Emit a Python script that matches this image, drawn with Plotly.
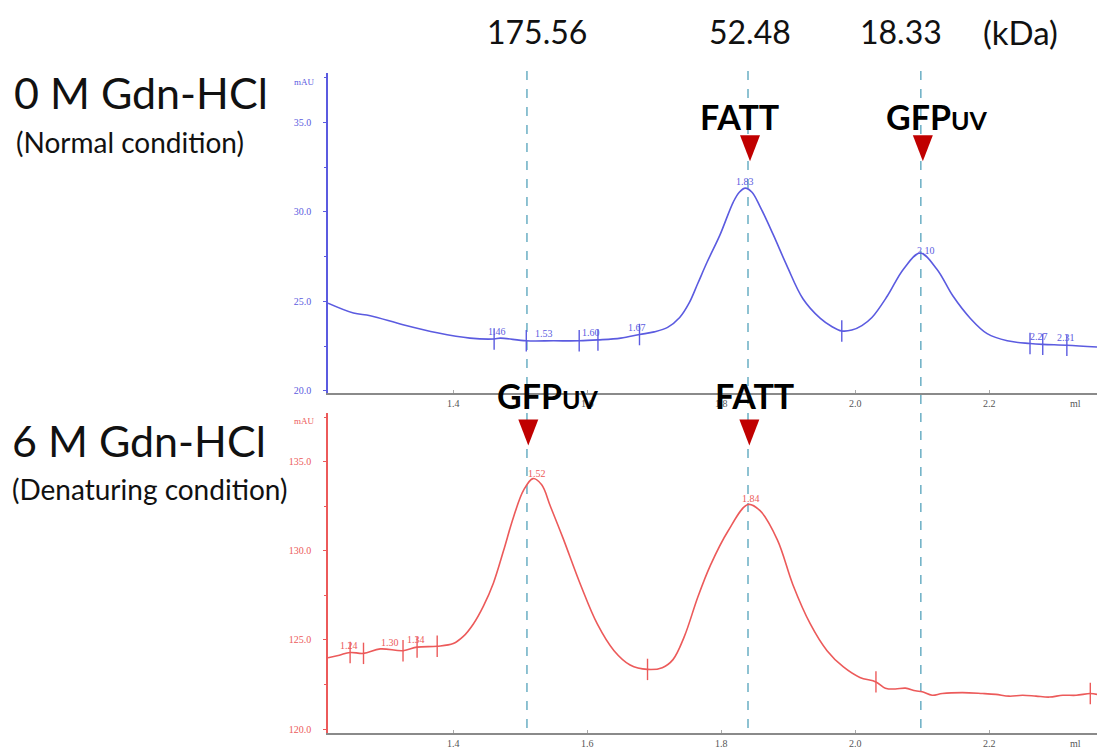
import numpy as np
import plotly.graph_objects as go

W, H = 1097, 753

# ---------------- data ----------------
# 0 M Gdn-HCl chromatogram (ml, mAU)
top_ml = [1.213, 1.251, 1.276, 1.325, 1.376, 1.425, 1.461, 1.47, 1.509, 1.55, 1.588, 1.616,
          1.65, 1.678, 1.70, 1.72, 1.738, 1.752, 1.765, 1.779, 1.798, 1.818, 1.827, 1.836,
          1.846, 1.858, 1.878, 1.898, 1.922, 1.948, 1.965, 1.98, 1.995, 2.01, 2.025, 2.048,
          2.072, 2.097, 2.122, 2.146, 2.172, 2.197, 2.227, 2.261, 2.28, 2.316, 2.361]
top_mau = [24.9, 24.35, 24.2, 23.7, 23.25, 22.95, 22.9, 22.95, 22.8, 22.8, 22.8, 22.85,
           22.95, 23.15, 23.3, 23.55, 24.1, 24.9, 26.0, 27.2, 28.7, 30.55, 31.1, 31.33,
           31.1, 30.3, 28.7, 27.0, 25.15, 24.05, 23.6, 23.35, 23.4, 23.65, 24.1, 25.3,
           26.8, 27.7, 26.8, 25.3, 24.05, 23.2, 22.8, 22.65, 22.6, 22.55, 22.45]

# 6 M Gdn-HCl chromatogram (ml, mAU)
bot_ml = [1.213, 1.23, 1.246, 1.266, 1.291, 1.325, 1.346, 1.376, 1.40, 1.415, 1.43, 1.445,
          1.46, 1.475, 1.49, 1.505, 1.519, 1.532, 1.545, 1.564, 1.59, 1.615, 1.64, 1.664, 1.69,
          1.712, 1.728, 1.745, 1.765, 1.784, 1.81, 1.84, 1.858, 1.884, 1.907, 1.933, 1.958,
          1.982, 2.007, 2.031, 2.045, 2.06, 2.075, 2.09, 2.1, 2.115, 2.13, 2.16, 2.19, 2.21,
          2.23, 2.25, 2.27, 2.29, 2.31, 2.33, 2.351, 2.361]
bot_mau = [124.0, 124.15, 124.3, 124.25, 124.5, 124.4, 124.6, 124.65, 124.8, 125.2, 125.9, 126.9,
           128.2, 130.0, 131.9, 133.4, 134.05, 133.7, 132.5, 130.7, 128.1, 125.9, 124.4, 123.6, 123.35,
           123.45, 123.9, 125.2, 127.4, 129.2, 131.1, 132.6, 132.25, 130.6, 128.1, 125.9, 124.4,
           123.5, 122.9, 122.65, 122.3, 122.25, 122.3, 122.15, 122.1, 121.9, 122.0, 122.05, 122.0, 121.95,
           121.85, 121.9, 121.85, 121.8, 121.9, 121.9, 122.0, 121.95]

# fraction cut marks (ml)
top_cuts = [1.461, 1.509, 1.588, 1.616, 1.678, 1.98, 2.261, 2.28, 2.316]
bot_cuts = [1.246, 1.266, 1.325, 1.346, 1.376, 1.69, 2.031, 2.351]

# retention labels printed on the traces
top_labels = ["1.46", "1.53", "1.60", "1.67", "1.83", "2.10", "2.27", "2.31"]
bot_labels = ["1.24", "1.30", "1.34", "1.52", "1.84"]

# marker positions (ml) and their molecular weights (kDa)
marker_ml = [1.51, 1.84, 2.098]
marker_kda = ["175.56", "52.48", "18.33"]
kda_unit = "(kDa)"

# peak identities
top_peaks = [("FATT", 1.84, -0.013), ("GFP<span style='font-size:25px'>UV</span>", 2.098, 0.024)]
bot_peaks = [("GFP<span style='font-size:25px'>UV</span>", 1.51, 0.031), ("FATT", 1.84, 0.01)]

x_ticks = [1.4, 1.6, 1.8, 2.0, 2.2]
top_yticks = [20, 25, 30, 35]
bot_yticks = [120, 125, 130, 135]

# ---------------- style ----------------
BLUE = "#5b5be0"
RED = "#ec5a5a"
DASH = "#6aaec4"
TRI = "#c00000"
BIG = "Lato, 'Open Sans', sans-serif"
SMALL = "'Liberation Serif', 'DejaVu Serif', serif"


def py(p):
    return 1 - p / H


fig = go.Figure()

fig.add_trace(go.Scatter(x=top_ml, y=top_mau, mode="lines", xaxis="x", yaxis="y",
                         line=dict(color=BLUE, width=1.6, shape="spline", smoothing=1.0),
                         hoverinfo="skip", showlegend=False))
fig.add_trace(go.Scatter(x=bot_ml, y=bot_mau, mode="lines", xaxis="x2", yaxis="y2",
                         line=dict(color=RED, width=1.6, shape="spline", smoothing=1.0),
                         hoverinfo="skip", showlegend=False))


def cut_segments(cuts, xs, ys, d):
    sx, sy = [], []
    for c in cuts:
        v = float(np.interp(c, xs, ys))
        sx += [c, c, None]
        sy += [v - d, v + d, None]
    return sx, sy


sx, sy = cut_segments(top_cuts, top_ml, top_mau, 0.6)
fig.add_trace(go.Scatter(x=sx, y=sy, mode="lines", xaxis="x", yaxis="y",
                         line=dict(color=BLUE, width=1.4), hoverinfo="skip", showlegend=False))
sx, sy = cut_segments(bot_cuts, bot_ml, bot_mau, 0.6)
fig.add_trace(go.Scatter(x=sx, y=sy, mode="lines", xaxis="x2", yaxis="y2",
                         line=dict(color=RED, width=1.4), hoverinfo="skip", showlegend=False))

ann = []
for t in top_labels:
    xv = float(t) + 0.005
    ann.append(dict(x=xv, y=float(np.interp(xv, top_ml, top_mau)), xref="x", yref="y",
                    text=t, showarrow=False, yanchor="bottom", xanchor="center", yshift=0,
                    font=dict(family=SMALL, size=10, color=BLUE)))
for t in bot_labels:
    xv = float(t) + 0.005
    ann.append(dict(x=xv, y=float(np.interp(xv, bot_ml, bot_mau)), xref="x2", yref="y2",
                    text=t, showarrow=False, yanchor="bottom", xanchor="center", yshift=0,
                    font=dict(family=SMALL, size=10, color=RED)))

shapes = []
for m in marker_ml:
    shapes.append(dict(type="line", xref="x", yref="paper", x0=m, x1=m,
                       y0=py(732), y1=py(65), line=dict(color=DASH, width=1.5, dash="dash"),
                       layer="below"))

# molecular weight labels
kda_font = dict(family=BIG, size=32, color="#111")
ann.append(dict(x=marker_ml[0] + 0.015, y=py(32), xref="x", yref="paper", text=marker_kda[0],
                showarrow=False, xanchor="center", yanchor="middle", font=kda_font))
ann.append(dict(x=marker_ml[1] + 0.003, y=py(32), xref="x", yref="paper", text=marker_kda[1],
                showarrow=False, xanchor="center", yanchor="middle", font=kda_font))
ann.append(dict(x=marker_ml[2] - 0.094, y=py(32), xref="x", yref="paper", text=marker_kda[2],
                showarrow=False, xanchor="left", yanchor="middle", font=kda_font))
ann.append(dict(x=1020 / W, y=py(32), xref="paper", yref="paper", text=kda_unit,
                showarrow=False, xanchor="center", yanchor="middle",
                font=dict(family=BIG, size=33, color="#111")))

# condition labels
ann.append(dict(x=12 / W, y=py(93), xref="paper", yref="paper", text="0 M Gdn-HCl",
                showarrow=False, xanchor="left", yanchor="middle",
                font=dict(family=BIG, size=43, color="#111")))
ann.append(dict(x=14 / W, y=py(143), xref="paper", yref="paper", text="(Normal condition)",
                showarrow=False, xanchor="left", yanchor="middle",
                font=dict(family=BIG, size=28, color="#111")))
ann.append(dict(x=10 / W, y=py(443), xref="paper", yref="paper", text="6 M Gdn-HCl",
                showarrow=False, xanchor="left", yanchor="middle",
                font=dict(family=BIG, size=43, color="#111")))
ann.append(dict(x=10 / W, y=py(492), xref="paper", yref="paper", text="(Denaturing condition)",
                showarrow=False, xanchor="left", yanchor="middle",
                font=dict(family=BIG, size=28, color="#111")))


# peak labels and triangles
def tri(xv, bottom_px, xref):
    return dict(type="path", xref=xref, yref="paper", xsizemode="pixel", ysizemode="pixel",
                xanchor=xv, yanchor=py(bottom_px), path="M -10,26 L 10,26 L 0,0 Z",
                fillcolor=TRI, line=dict(color=TRI, width=0), layer="above")


for name, xv, off in top_peaks:
    ann.append(dict(x=xv + off, y=py(117), xref="x", yref="paper", text="<b>%s</b>" % name,
                    showarrow=False, xanchor="center", yanchor="middle",
                    font=dict(family=BIG, size=34, color="#000")))
    shapes.append(tri(xv + 0.003, 162, "x"))
for name, xv, off in bot_peaks:
    ann.append(dict(x=xv + off, y=py(398), xref="x", yref="paper", text="<b>%s</b>" % name,
                    showarrow=False, xanchor="center", yanchor="middle",
                    font=dict(family=BIG, size=34, color="#000")))
    shapes.append(tri(xv + 0.002, 448, "x"))

# axis unit labels
for yy, col in [(82, BLUE), (423, RED)]:
    ann.append(dict(x=304 / W, y=py(yy), xref="paper", yref="paper", text="mAU",
                    showarrow=False, xanchor="center", yanchor="middle",
                    font=dict(family=SMALL, size=9, color=col)))
for yy in [406, 747]:
    ann.append(dict(x=1075 / W, y=py(yy), xref="paper", yref="paper", text="ml",
                    showarrow=False, xanchor="center", yanchor="middle",
                    font=dict(family=SMALL, size=10, color="#555")))

xr = [1.213, 2.361]
xdom = [328 / W, 1.0]
common_x = dict(range=xr, domain=xdom, showgrid=False, zeroline=False, showline=True,
                linecolor="#8a8a8a", linewidth=1.5, tickvals=x_ticks,
                ticktext=["%.1f" % v for v in x_ticks], ticks="inside", ticklen=3,
                tickcolor="#aaa", tickfont=dict(family=SMALL, size=10, color="#555"),
                fixedrange=True)

fig.update_layout(
    width=W, height=H, margin=dict(l=0, r=0, t=0, b=0),
    paper_bgcolor="white", plot_bgcolor="white", showlegend=False,
    xaxis=dict(**common_x, anchor="y"),
    xaxis2=dict(**common_x, anchor="y2"),
    yaxis=dict(range=[19.89, 37.78], domain=[py(395), py(73)], anchor="x",
               showgrid=False, zeroline=False, showline=True, linecolor=BLUE, linewidth=1.5,
               tickvals=top_yticks, ticktext=["%.1f" % v for v in top_yticks],
               ticks="outside", ticklen=3, tickcolor=BLUE, ticklabelstandoff=10,
               minor=dict(dtick=2.5, ticks="outside", ticklen=2, tickcolor=BLUE),
               tickfont=dict(family=SMALL, size=10, color=BLUE)),
    yaxis2=dict(range=[119.78, 137.74], domain=[py(737), py(415)], anchor="x2",
                showgrid=False, zeroline=False, showline=True, linecolor=RED, linewidth=1.5,
                tickvals=bot_yticks, ticktext=["%.1f" % v for v in bot_yticks],
                ticks="outside", ticklen=3, tickcolor=RED, ticklabelstandoff=10,
                minor=dict(dtick=2.5, ticks="outside", ticklen=2, tickcolor=RED),
                tickfont=dict(family=SMALL, size=10, color=RED)),
    annotations=ann, shapes=shapes,
)

fig.write_html("out.html")
